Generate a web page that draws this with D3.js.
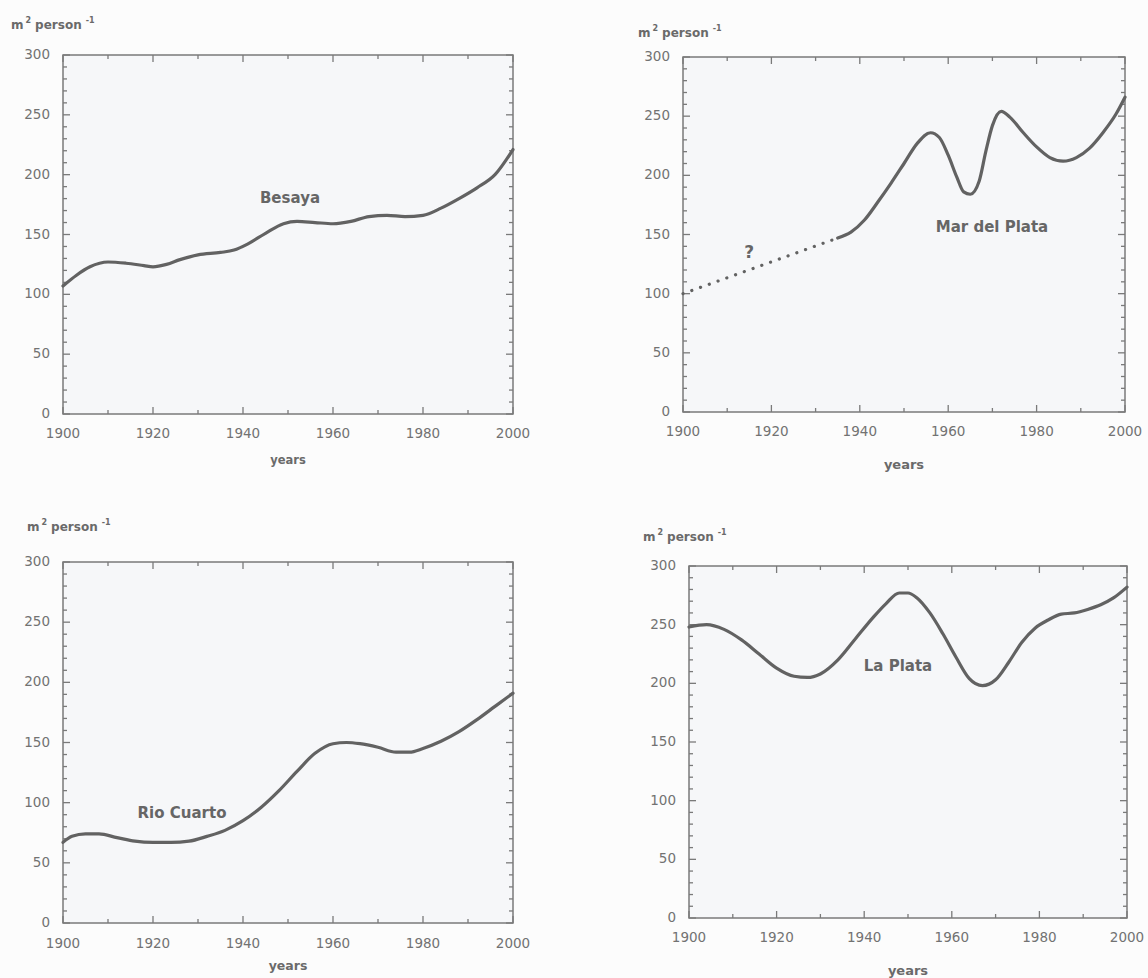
<!DOCTYPE html>
<html>
<head>
<meta charset="utf-8">
<script src="https://cdn.jsdelivr.net/npm/d3@7"></script>
<style>
  html, body { margin: 0; padding: 0; background: #fcfcfc; }
  svg { display: block; }
  text { font-family: "DejaVu Sans", Verdana, sans-serif; }
</style>
</head>
<body>
<svg id="chart" width="1148" height="978"></svg>
<script>
// Urban land per inhabitant (m² per person), 1900–2000, four cities

const xTickValues = [1900, 1920, 1940, 1960, 1980, 2000];
const yTickValues = [0, 50, 100, 150, 200, 250, 300];

const besayaYears  = [1900, 1903, 1906, 1910, 1914, 1918, 1920, 1923, 1926, 1930, 1935, 1938, 1941, 1945, 1949, 1952, 1956, 1960, 1964, 1968, 1972, 1976, 1980, 1984, 1988, 1992, 1996, 2000];
const besayaValues = [107, 116, 123, 127, 126, 124, 123, 125, 129, 133, 135, 137, 142, 151, 159, 161, 160, 159, 161, 165, 166, 165, 166, 172, 180, 189, 200, 221];

const marDelPlataGuessYears  = [1900, 1935];
const marDelPlataGuessValues = [100, 147];
const marDelPlataYears  = [1935, 1938, 1941, 1944, 1947, 1950, 1953, 1956, 1958, 1960, 1962, 1963.5, 1965, 1967, 1968.5, 1970, 1972, 1974, 1977, 1980, 1983, 1986, 1989, 1992, 1995, 1998, 2000];
const marDelPlataValues = [147, 152, 162, 177, 193, 210, 227, 236, 232, 217, 198, 186, 184, 195, 220, 242, 254, 249, 236, 224, 215, 212, 215, 223, 236, 252, 266];

const rioCuartoYears  = [1900, 1902, 1905, 1908, 1912, 1916, 1920, 1924, 1928, 1932, 1936, 1940, 1944, 1948, 1952, 1956, 1960, 1963, 1966, 1970, 1974, 1977, 1980, 1984, 1988, 1992, 1996, 2000];
const rioCuartoValues = [67, 72, 74, 74, 71, 68, 67, 67, 68, 72, 77, 85, 96, 110, 126, 141, 149, 150, 149, 146, 142, 142, 145, 151, 159, 169, 180, 191];

const laPlataYears  = [1900, 1904, 1908, 1912, 1916, 1920, 1924, 1927, 1930, 1934, 1938, 1942, 1945, 1948, 1950, 1952, 1955, 1958, 1961, 1964, 1967, 1970, 1973, 1976, 1979, 1982, 1985, 1988, 1991, 1994, 1997, 2000];
const laPlataValues = [248, 250, 246, 237, 225, 213, 206, 205, 208, 220, 238, 256, 268, 277, 277, 273, 260, 242, 222, 204, 198, 203, 218, 235, 247, 254, 259, 260, 263, 267, 273, 282];

const cityNames = ["Besaya", "Mar del Plata", "Rio Cuarto", "La Plata"];

// Panel frames and label placement
const panels = [
  { name: cityNames[0], years: besayaYears, values: besayaValues,
    left: 63, right: 513, top: 55, bottom: 414,
    unitX: 11, unitY: 25, yearsY: 460, yearsSize: 11.5, tickLabelDy: 20,
    nameX: 290, nameY: 198 },
  { name: cityNames[1], years: marDelPlataYears, values: marDelPlataValues,
    guessYears: marDelPlataGuessYears, guessValues: marDelPlataGuessValues,
    left: 683, right: 1125, top: 57, bottom: 412,
    unitX: 638, unitY: 33, yearsY: 465, yearsSize: 13, tickLabelDy: 20,
    nameX: 992, nameY: 227 },
  { name: cityNames[2], years: rioCuartoYears, values: rioCuartoValues,
    left: 63, right: 513, top: 562, bottom: 923,
    unitX: 27, unitY: 527, yearsY: 966, yearsSize: 12.5, tickLabelDy: 21,
    nameX: 182, nameY: 813 },
  { name: cityNames[3], years: laPlataYears, values: laPlataValues,
    left: 689, right: 1127, top: 566, bottom: 918,
    unitX: 643, unitY: 537, yearsY: 971, yearsSize: 13, tickLabelDy: 20,
    nameX: 898, nameY: 666 }
];

const svg = d3.select("#chart");
const axisColor = "#7a7a7a";
const textColor = "#727272";
const lineColor = "#626262";

panels.forEach(p => {
  const x = d3.scaleLinear().domain([1900, 2000]).range([p.left, p.right]);
  const y = d3.scaleLinear().domain([0, 300]).range([p.bottom, p.top]);
  const g = svg.append("g");

  g.append("rect")
    .attr("x", p.left).attr("y", p.top)
    .attr("width", p.right - p.left).attr("height", p.bottom - p.top)
    .attr("fill", "#f6f7f9");

  const minorX = d3.range(1900, 2001, 10);
  const minorY = d3.range(0, 301, 10);

  // ticks pointing into the frame on all four sides
  const tickG = g.append("g").attr("stroke", axisColor).attr("stroke-width", 1.3);
  minorX.forEach(v => {
    const major = v % 20 === 0;
    const len = major ? 7 : 4;
    tickG.append("line").attr("x1", x(v)).attr("x2", x(v))
      .attr("y1", p.bottom).attr("y2", p.bottom - len);
    tickG.append("line").attr("x1", x(v)).attr("x2", x(v))
      .attr("y1", p.top).attr("y2", p.top + len);
  });
  minorY.forEach(v => {
    const major = v % 50 === 0;
    const len = major ? 7 : 4;
    tickG.append("line").attr("y1", y(v)).attr("y2", y(v))
      .attr("x1", p.left).attr("x2", p.left + len);
    tickG.append("line").attr("y1", y(v)).attr("y2", y(v))
      .attr("x1", p.right).attr("x2", p.right - len);
  });

  g.append("rect")
    .attr("x", p.left).attr("y", p.top)
    .attr("width", p.right - p.left).attr("height", p.bottom - p.top)
    .attr("fill", "none").attr("stroke", axisColor).attr("stroke-width", 1.5);

  // tick labels
  g.selectAll(".xl").data(xTickValues).enter().append("text")
    .attr("x", d => x(d)).attr("y", p.bottom + p.tickLabelDy)
    .attr("text-anchor", "middle").attr("dominant-baseline", "middle")
    .attr("font-size", 13.5).attr("fill", textColor)
    .text(d => d);
  g.selectAll(".yl").data(yTickValues).enter().append("text")
    .attr("x", p.left - 13).attr("y", d => y(d))
    .attr("text-anchor", "end").attr("dominant-baseline", "middle")
    .attr("font-size", 13.5).attr("fill", textColor)
    .text(d => d);

  // axis titles
  const unit = g.append("text")
    .attr("x", p.unitX).attr("y", p.unitY)
    .attr("dominant-baseline", "middle")
    .attr("font-size", 12).attr("font-weight", "bold").attr("fill", "#6a6a6a");
  unit.append("tspan").text("m");
  unit.append("tspan").attr("dy", -5).attr("dx", 2).attr("font-size", 8).text("2");
  unit.append("tspan").attr("dy", 5).attr("dx", 4).text("person");
  unit.append("tspan").attr("dy", -5).attr("dx", 4).attr("font-size", 8).text("-1");

  g.append("text")
    .attr("x", (p.left + p.right) / 2).attr("y", p.yearsY)
    .attr("text-anchor", "middle").attr("dominant-baseline", "middle")
    .attr("font-size", p.yearsSize).attr("font-weight", "bold").attr("fill", "#6a6a6a")
    .text("years");

  // series
  const line = d3.line().x(d => x(d[0])).y(d => y(d[1])).curve(d3.curveMonotoneX);

  if (p.guessYears) {
    g.append("path")
      .datum(d3.zip(p.guessYears, p.guessValues))
      .attr("d", line)
      .attr("fill", "none").attr("stroke", lineColor)
      .attr("stroke-width", 3.2).attr("stroke-linecap", "round")
      .attr("stroke-dasharray", "0.1,9.2");
    g.append("text")
      .attr("x", x(1915)).attr("y", y(134))
      .attr("text-anchor", "middle").attr("dominant-baseline", "middle")
      .attr("font-size", 17).attr("font-weight", "bold").attr("fill", "#666")
      .text("?");
  }

  g.append("path")
    .datum(d3.zip(p.years, p.values))
    .attr("d", line)
    .attr("fill", "none").attr("stroke", lineColor)
    .attr("stroke-width", 3.2).attr("stroke-linejoin", "round").attr("stroke-linecap", "round");

  g.append("text")
    .attr("x", p.nameX).attr("y", p.nameY)
    .attr("text-anchor", "middle").attr("dominant-baseline", "middle")
    .attr("font-size", 15).attr("font-weight", "bold").attr("fill", "#666")
    .text(p.name);
});
</script>
</body>
</html>
